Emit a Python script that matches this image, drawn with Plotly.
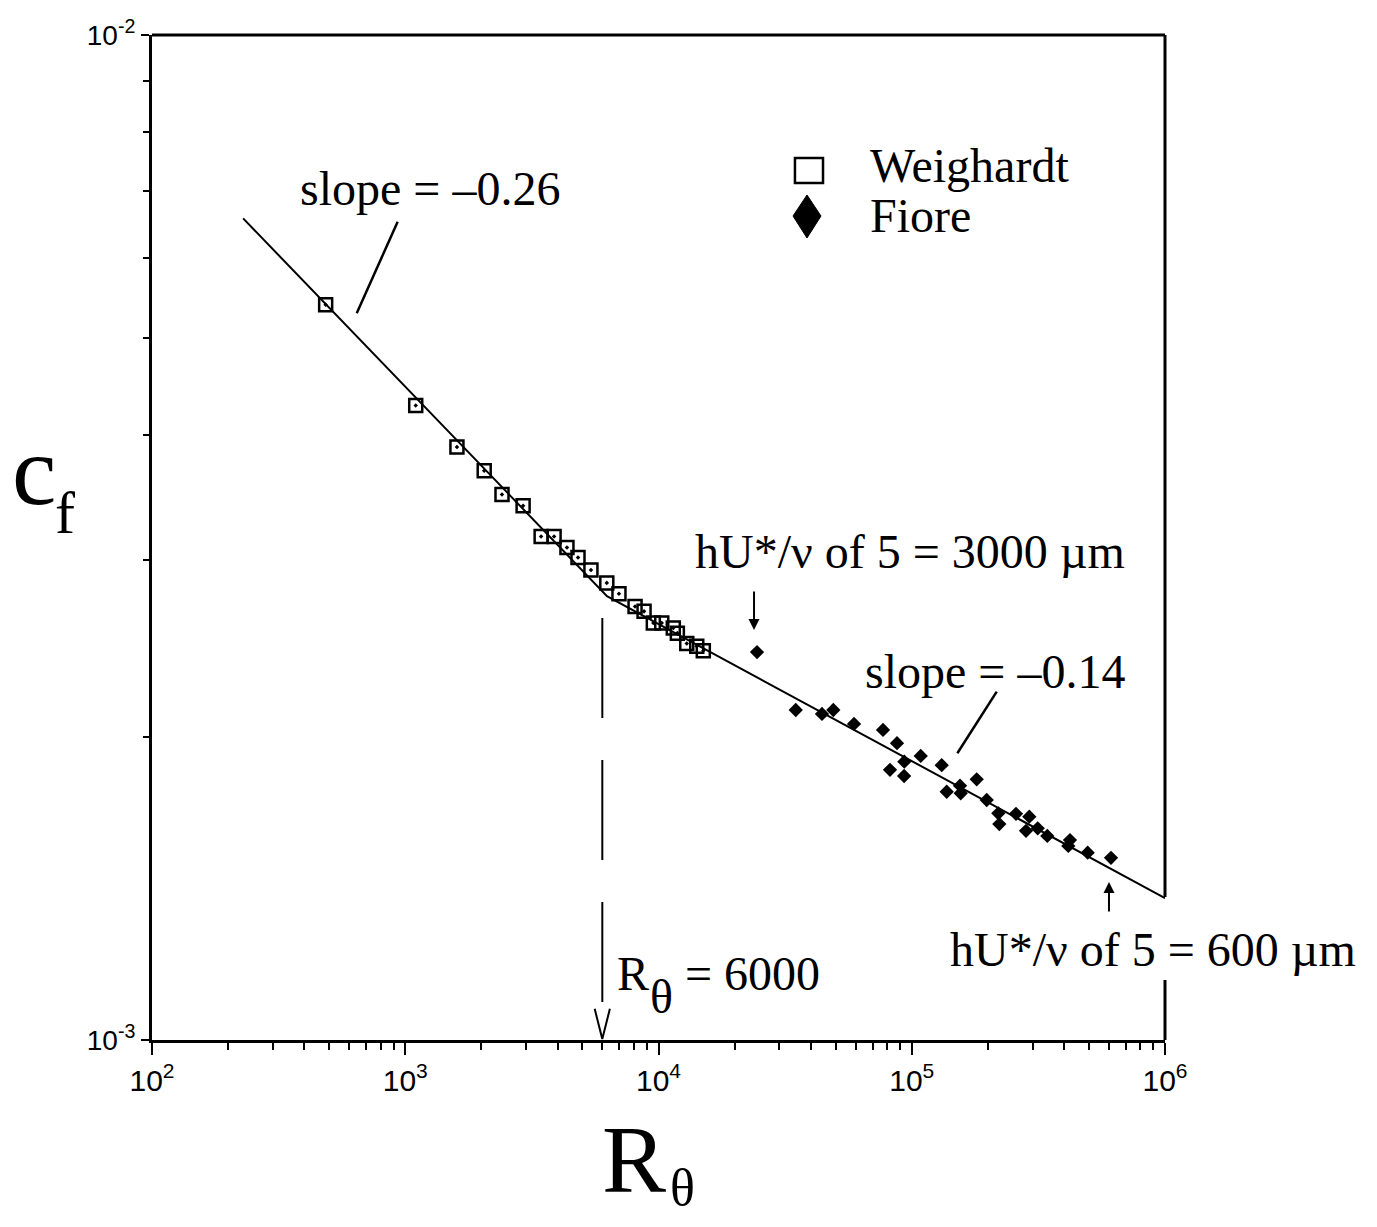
import plotly.graph_objects as go

# ---------------- data ----------------
weighardt_rtheta = [485, 1100, 1600, 2050, 2410, 2920, 3440, 3870, 4350, 4810, 5410,
                    6250, 6980, 8080, 8770, 9540, 10300, 11440, 11870, 12930, 14160, 15030]
weighardt_cf = [5.39e-3, 4.28e-3, 3.89e-3, 3.685e-3, 3.49e-3, 3.40e-3, 3.17e-3, 3.17e-3,
                3.09e-3, 3.02e-3, 2.935e-3, 2.85e-3, 2.78e-3, 2.70e-3, 2.67e-3, 2.60e-3,
                2.60e-3, 2.57e-3, 2.54e-3, 2.48e-3, 2.465e-3, 2.44e-3]

fiore_rtheta = [24490, 34830, 44210, 49010, 59160, 77010, 87460, 93460, 82060, 93290,
                108500, 131300, 137400, 155100, 156100, 180500, 197700, 219700, 221700,
                258000, 291200, 282600, 314300, 343000, 421500, 415100, 495100, 612100]
fiore_cf = [2.432e-3, 2.130e-3, 2.111e-3, 2.130e-3, 2.063e-3, 2.035e-3, 1.974e-3, 1.892e-3,
            1.857e-3, 1.831e-3, 1.917e-3, 1.877e-3, 1.766e-3, 1.791e-3, 1.760e-3, 1.817e-3,
            1.733e-3, 1.681e-3, 1.640e-3, 1.679e-3, 1.668e-3, 1.615e-3, 1.624e-3, 1.596e-3,
            1.581e-3, 1.560e-3, 1.536e-3, 1.518e-3]

fit_rtheta = [229, 6260, 1e6]
fit_cf = [6.57e-3, 2.765e-3, 1.384e-3]

transition_rtheta = [6000, 6000]
transition_cf = [2.63e-3, 1.076e-3]

x_major = [1e2, 1e3, 1e4, 1e5, 1e6]
x_major_text = ["10<sup>2</sup>", "10<sup>3</sup>", "10<sup>4</sup>", "10<sup>5</sup>", "10<sup>6</sup>"]
y_major = [1e-3, 1e-2]
y_major_text = ["10<sup>-3</sup>", "10<sup>-2</sup>"]
x_minor = [k * 10 ** d for d in range(2, 6) for k in range(2, 10)]
y_minor = [k * 1e-3 for k in range(2, 10)]

SERIF = "Liberation Serif, Times New Roman, serif"
SANS = "Liberation Sans, Arial, sans-serif"

fig = go.Figure()

fig.add_trace(go.Scatter(x=fit_rtheta, y=fit_cf, mode="lines",
                         line=dict(color="black", width=2), showlegend=False))
fig.add_trace(go.Scatter(x=transition_rtheta, y=transition_cf, mode="lines",
                         line=dict(color="black", width=2, dash="100px,42px"),
                         showlegend=False))
fig.add_trace(go.Scatter(x=weighardt_rtheta, y=weighardt_cf, mode="markers", name="Weighardt",
                         marker=dict(symbol="square-open-dot", size=13, color="black",
                                     line=dict(width=2.5, color="black")),
                         showlegend=False))
fig.add_trace(go.Scatter(x=fiore_rtheta, y=fiore_cf, mode="markers", name="Fiore",
                         marker=dict(symbol="diamond", size=11, color="black",
                                     line=dict(width=0)),
                         showlegend=False))

shapes = []
# top border and broken right border
shapes.append(dict(type="line", xref="paper", yref="paper", x0=0, y0=1, x1=1, y1=1,
                   line=dict(color="black", width=3)))
shapes.append(dict(type="line", xref="paper", yref="paper", x0=1, y0=1, x1=1, y1=0.1423,
                   line=dict(color="black", width=3)))
shapes.append(dict(type="line", xref="paper", yref="paper", x0=1, y0=0.0597, x1=1, y1=0,
                   line=dict(color="black", width=3)))
# leader lines for slope labels
shapes.append(dict(type="line", xref="paper", yref="paper", x0=0.2425, y0=0.8142,
                   x1=0.2021, y1=0.7231, line=dict(color="black", width=2.5)))
shapes.append(dict(type="line", xref="paper", yref="paper", x0=0.8339, y0=0.3466,
                   x1=0.7950, y1=0.2853, line=dict(color="black", width=2.5)))
# open V arrow head at R_theta = 6000
xv = 0.4445
shapes.append(dict(type="path", xref="paper", yref="paper",
                   path=f"M {xv-0.0075} 0.031 L {xv} 0.001 L {xv+0.0075} 0.031",
                   line=dict(color="black", width=2)))
# legend symbols
shapes.append(dict(type="rect", xref="paper", yref="paper", x0=0.6347, y0=0.8527,
                   x1=0.6624, y1=0.8776, line=dict(color="black", width=2.5)))
shapes.append(dict(type="path", xref="paper", yref="paper",
                   path="M 0.6466 0.8408 L 0.6604 0.8199 L 0.6466 0.7980 L 0.6328 0.8199 Z",
                   fillcolor="black", line=dict(color="black", width=1)))

ann = []


def txt(x, y, s, size=48, family=SERIF):
    ann.append(dict(x=x, y=y, xref="paper", yref="paper", text=s, showarrow=False,
                    xanchor="left", yanchor="middle",
                    font=dict(family=family, size=size, color="black")))


txt(0.1441, 0.8468, "slope = –0.26")
txt(0.7068, 0.8700, "Weighardt")
txt(0.7068, 0.8200, "Fiore")
txt(0.5341, 0.4856, "hU*/ν of 5 = 3000 µm")
txt(0.7019, 0.3662, "slope = –0.14")
txt(0.7858, 0.0905, "hU*/ν of 5 = 600 µm")
txt(0.4571, 0.0657, "R")
txt(0.4896, 0.0428, "θ")
txt(0.5240, 0.0657, "= 6000")
# axis titles
txt(-0.1402, 0.5662, "c", size=100)
txt(-0.0977, 0.5244, "f", size=60)
txt(0.4423, -0.1194, "R", size=96)
txt(0.5094, -0.1470, "θ", size=52)

# arrows
ann.append(dict(x=0.5943, y=0.4080, xref="paper", yref="paper", text="", showarrow=True,
                ax=0, ay=-40, arrowhead=2, arrowsize=1.1, arrowwidth=2, arrowcolor="black"))
ann.append(dict(x=0.9447, y=0.1572, xref="paper", yref="paper", text="", showarrow=True,
                ax=0, ay=31, arrowhead=2, arrowsize=1.1, arrowwidth=2, arrowcolor="black"))

fig.update_layout(
    width=1361, height=1211,
    margin=dict(l=144, r=204, t=27, b=179, pad=0, autoexpand=False),
    paper_bgcolor="white", plot_bgcolor="white",
    showlegend=False,
    shapes=shapes, annotations=ann,
    xaxis=dict(type="log", range=[2, 6], showgrid=False, zeroline=False, automargin=False,
               showline=True, linecolor="black", linewidth=3,
               tickmode="array", tickvals=x_major, ticktext=x_major_text,
               ticks="outside", ticklen=12, tickwidth=2, tickcolor="black",
               tickfont=dict(family=SANS, size=30, color="black"),
               minor=dict(tickmode="array", tickvals=x_minor, ticks="outside",
                          ticklen=7, tickwidth=2, tickcolor="black", showgrid=False)),
    yaxis=dict(type="log", range=[-3, -2], showgrid=False, zeroline=False, automargin=False,
               showline=True, linecolor="black", linewidth=3,
               tickmode="array", tickvals=y_major, ticktext=y_major_text,
               ticks="outside", ticklen=8, tickwidth=2, tickcolor="black",
               tickfont=dict(family=SANS, size=28, color="black"),
               minor=dict(tickmode="array", tickvals=y_minor, ticks="outside",
                          ticklen=6, tickwidth=2, tickcolor="black", showgrid=False)),
)

fig.write_html("out.html")
